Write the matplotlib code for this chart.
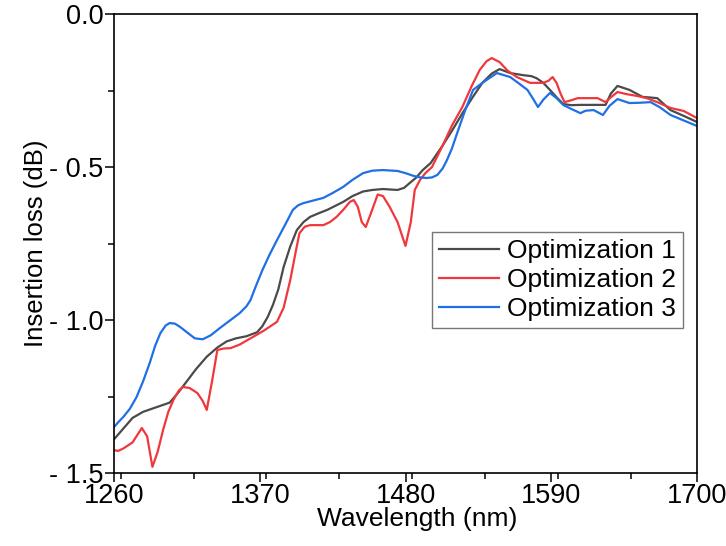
import matplotlib
matplotlib.use("Agg")
import matplotlib.pyplot as plt
from matplotlib.ticker import FixedLocator, FixedFormatter, MultipleLocator

plt.rcParams['font.family'] = ['Liberation Sans', 'DejaVu Sans']

# Optimization 1 (gray)
wl1 = [1260, 1266, 1274, 1282, 1292, 1302, 1308, 1315, 1322, 1330, 1338, 1345, 1352, 1360, 1368,
       1372, 1376, 1380, 1384, 1388, 1393, 1398, 1403, 1408, 1414, 1421, 1427, 1433, 1440, 1448,
       1455, 1463, 1474, 1479, 1483, 1488, 1493, 1499, 1508, 1516, 1523, 1531, 1538, 1545, 1551,
       1559, 1569, 1575, 1579, 1584, 1589, 1594, 1599, 1605, 1612, 1631, 1635, 1640, 1649, 1659,
       1665, 1670, 1680, 1690, 1700]
il1 = [-1.39, -1.36, -1.32, -1.30, -1.285, -1.27, -1.24, -1.20, -1.16, -1.12, -1.09, -1.07, -1.06, -1.053, -1.04,
       -1.02, -0.99, -0.95, -0.90, -0.827, -0.76, -0.706, -0.68, -0.663, -0.652, -0.64, -0.627, -0.614, -0.595, -0.58,
       -0.575, -0.572, -0.575, -0.568, -0.553, -0.535, -0.51, -0.487, -0.43, -0.375, -0.324, -0.27, -0.225, -0.195, -0.18,
       -0.193, -0.20, -0.203, -0.21, -0.225, -0.248, -0.272, -0.294, -0.298, -0.297, -0.297, -0.26, -0.235, -0.248, -0.271,
       -0.273, -0.275, -0.314, -0.333, -0.353]

# Optimization 2 (red)
wl2 = [1260, 1263, 1267, 1274, 1281, 1285, 1289, 1293, 1297, 1301, 1305, 1309, 1312, 1317, 1323,
       1327, 1330, 1334, 1338, 1343, 1348, 1355, 1363, 1373, 1383, 1388, 1393, 1397, 1400, 1404,
       1408, 1418, 1423, 1428, 1433, 1438, 1441, 1444, 1447, 1450, 1454, 1459, 1463, 1468, 1474,
       1480, 1484, 1487, 1491, 1495, 1500, 1508, 1515, 1523, 1530, 1536, 1541, 1545, 1551, 1557,
       1564, 1574, 1584, 1588, 1591, 1594, 1597, 1600, 1605, 1610, 1625, 1631, 1635, 1640, 1647,
       1655, 1662, 1670, 1680, 1690, 1700]
il2 = [-1.425, -1.428, -1.42, -1.40, -1.353, -1.38, -1.48, -1.43, -1.36, -1.30, -1.26, -1.23, -1.219, -1.222, -1.239,
       -1.265, -1.294, -1.20, -1.098, -1.093, -1.092, -1.08, -1.06, -1.035, -1.006, -0.96, -0.87, -0.78, -0.716, -0.695,
       -0.69, -0.69, -0.68, -0.663, -0.64, -0.614, -0.608, -0.63, -0.68, -0.696, -0.65, -0.59, -0.595, -0.63, -0.68,
       -0.758, -0.68, -0.575, -0.542, -0.52, -0.50, -0.43, -0.365, -0.303, -0.235, -0.183, -0.155, -0.144, -0.157, -0.185,
       -0.206, -0.225, -0.225, -0.218, -0.206, -0.225, -0.26, -0.288, -0.282, -0.275, -0.275, -0.288, -0.272, -0.255, -0.262,
       -0.268, -0.275, -0.288, -0.307, -0.317, -0.34]

# Optimization 3 (blue)
wl3 = [1260, 1263, 1267, 1272, 1277, 1282, 1287, 1291, 1295, 1299, 1302, 1306, 1310, 1315, 1321,
       1327, 1333, 1340, 1348, 1355, 1360, 1363, 1367, 1372, 1377, 1383, 1389, 1395, 1399, 1403,
       1410, 1418, 1425, 1433, 1440, 1448, 1455, 1463, 1474, 1480, 1486, 1491, 1496, 1500, 1504,
       1508, 1511, 1515, 1519, 1525, 1531, 1539, 1549, 1559, 1565, 1572, 1576, 1580, 1584, 1589,
       1594, 1599, 1605, 1612, 1616, 1622, 1629, 1634, 1640, 1649, 1657, 1665, 1672, 1680, 1690, 1700]
il3 = [-1.35, -1.335, -1.317, -1.29, -1.252, -1.20, -1.14, -1.085, -1.043, -1.018, -1.01, -1.012, -1.023, -1.04, -1.06,
       -1.063, -1.05, -1.026, -1.00, -0.977, -0.955, -0.935, -0.89, -0.837, -0.79, -0.739, -0.69, -0.64, -0.625, -0.618,
       -0.61, -0.601, -0.585, -0.565, -0.542, -0.52, -0.512, -0.51, -0.513, -0.52, -0.529, -0.534, -0.536, -0.534, -0.526,
       -0.505, -0.48, -0.44, -0.389, -0.315, -0.248, -0.222, -0.193, -0.206, -0.225, -0.248, -0.275, -0.304, -0.28, -0.258,
       -0.275, -0.297, -0.31, -0.324, -0.316, -0.314, -0.330, -0.30, -0.278, -0.291, -0.29, -0.288, -0.305, -0.330, -0.348, -0.366]

labels = ["Optimization 1", "Optimization 2", "Optimization 3"]
colors = ["#4a4a4a", "#f0383c", "#1f6fe5"]

x_ticks = [1260, 1370, 1480, 1590, 1700]
y_ticks = [0.0, -0.5, -1.0, -1.5]
y_ticklabels = ["0.0", "- 0.5", "- 1.0", "- 1.5"]

fig = plt.figure(figsize=(7.26, 5.46), dpi=100)
ax = fig.add_axes([114/726, 1-473/546, (697-114)/726, (473-14)/546])

for wl, il, lab, c in zip([wl1, wl2, wl3], [il1, il2, il3], labels, colors):
    ax.plot(wl, il, color=c, lw=1.6, label=lab, solid_joinstyle='round')

ax.set_xlim(1260, 1700)
ax.set_ylim(-1.5, 0.0)
ax.xaxis.set_major_locator(FixedLocator(x_ticks))
ax.xaxis.set_minor_locator(MultipleLocator(55))
ax.yaxis.set_major_locator(FixedLocator(y_ticks))
ax.yaxis.set_major_formatter(FixedFormatter(y_ticklabels))
ax.yaxis.set_minor_locator(MultipleLocator(0.25))

ax.tick_params(which='major', direction='out', length=6.5, width=1.1, labelsize=19.5, pad=1)
ax.tick_params(which='minor', direction='out', length=4.3, width=1.1)
ax.tick_params(top=False, right=False, which='both')
for s in ax.spines.values():
    s.set_linewidth(1.2)

ax.set_xlabel("Wavelength (nm)", fontsize=19, labelpad=-1)
ax.xaxis.set_label_coords(0.52, -0.075, transform=ax.transAxes)
ax.xaxis.label.set_va('top')
ax.set_ylabel("Insertion loss (dB)", fontsize=18.5, labelpad=1)

leg = ax.legend(loc='lower right', bbox_to_anchor=(0.976, 0.316), borderaxespad=0,
                fontsize=19, frameon=True, fancybox=False, edgecolor='#555555',
                handlelength=2.3, handletextpad=0.3, labelspacing=0.2, borderpad=0.25)
leg.get_frame().set_linewidth(1.0)

fig.savefig("out.png", dpi=100)
